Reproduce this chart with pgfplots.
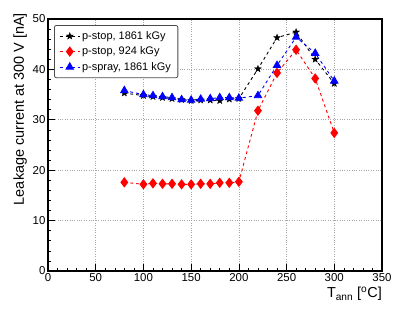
\documentclass[border=0pt]{standalone}
\usepackage{fontspec}
\setmainfont{Liberation Sans}
\usepackage{pgfplots}
\pgfplotsset{compat=1.18}

% filled five-point star, like ROOT marker 29
\pgfdeclareplotmark{fstar}{%
  \pgfpathmoveto{\pgfpointpolar{90}{\pgfplotmarksize}}%
  \pgfpathlineto{\pgfpointpolar{126}{0.42\pgfplotmarksize}}%
  \pgfpathlineto{\pgfpointpolar{162}{\pgfplotmarksize}}%
  \pgfpathlineto{\pgfpointpolar{198}{0.42\pgfplotmarksize}}%
  \pgfpathlineto{\pgfpointpolar{234}{\pgfplotmarksize}}%
  \pgfpathlineto{\pgfpointpolar{270}{0.42\pgfplotmarksize}}%
  \pgfpathlineto{\pgfpointpolar{306}{\pgfplotmarksize}}%
  \pgfpathlineto{\pgfpointpolar{342}{0.42\pgfplotmarksize}}%
  \pgfpathlineto{\pgfpointpolar{18}{\pgfplotmarksize}}%
  \pgfpathlineto{\pgfpointpolar{54}{0.42\pgfplotmarksize}}%
  \pgfpathclose\pgfusepathqfillstroke}

\begin{document}
\begin{tikzpicture}
\begin{axis}[
  scale only axis,
  width=334bp, height=252bp,
  xmin=0, xmax=350, ymin=0, ymax=50,
  xtick={0,50,...,350}, ytick={0,10,...,50},
  minor x tick num=4, minor y tick num=4,
  tick align=inside, xtick pos=bottom, ytick pos=left,
  major tick length=7bp, minor tick length=3.5bp,
  axis line style={line width=1.4bp},
  every tick/.style={black, line width=0.6bp},
  grid=major,
  major grid style={gray!70, dotted, line width=0.6bp},
  /pgf/number format/assume math mode=true,
  tick label style={font=\fontsize{11.5}{13}\selectfont},
  xticklabel style={yshift=1bp},
  yticklabel style={xshift=1bp},
  xlabel={T\textsubscript{ann} [\textsuperscript{o}C]},
  ylabel={Leakage current at 300 V [nA]},
  label style={font=\fontsize{14.5}{16}\selectfont, inner sep=0pt},
  x label style={at={(rel axis cs:1,0)}, anchor=north east, yshift=-16bp},
  y label style={at={([xshift=-21bp]rel axis cs:0,1.024)}, anchor=south east},
  legend style={at={(rel axis cs:0.018,0.976)}, anchor=north west,
    font=\fontsize{11}{13}\selectfont, draw=black!70, line width=0.8bp,
    rounded corners=2bp, inner xsep=5bp, inner ysep=4bp,
    row sep=2bp},
  legend cell align=left,
  legend image code/.code={
    \draw[mark repeat=2, mark phase=2, #1] plot coordinates {(0cm,0cm) (0.35cm,0cm) (0.7cm,0cm)};},
]
\addplot[black, dashed, line width=0.9bp, mark=fstar, mark size=3.6bp,
  mark options={solid, fill=black, line width=0.3bp}] coordinates {
  (80,35.3) (100,34.8) (110,34.6) (120,34.4) (130,34.2) (140,34.0) (150,33.8)
  (160,33.9) (170,33.9) (180,33.8) (190,34.1) (200,34.2) (220,40.1) (240,46.3)
  (260,47.4) (280,42.0) (300,37.2)};
\addlegendentry{p-stop, 1861 kGy}
\addplot[red, dashed, line width=0.9bp, mark=diamond*, mark size=4.5bp,
  mark options={solid, fill=red}] coordinates {
  (80,17.6) (100,17.2) (110,17.4) (120,17.3) (130,17.3) (140,17.2) (150,17.2)
  (160,17.3) (170,17.3) (180,17.5) (190,17.5) (200,17.7) (220,31.8) (240,39.3)
  (260,43.9) (280,38.2) (300,27.4)};
\addlegendentry{p-stop, 924 kGy}
\addplot[blue, dashed, line width=0.9bp, mark=triangle*, mark size=4.2bp,
  mark options={solid, fill=blue}] coordinates {
  (80,35.8) (100,35.0) (110,34.8) (120,34.6) (130,34.4) (140,34.0) (150,33.9)
  (160,34.1) (170,34.2) (180,34.4) (190,34.4) (200,34.3) (220,34.8) (240,40.8)
  (260,46.4) (280,43.2) (300,37.7)};
\addlegendentry{p-spray, 1861 kGy}
\end{axis}
\pgfresetboundingbox
\path ([shift={(-48bp,-55bp)}]current axis.south west) rectangle ([shift={(25bp,19bp)}]current axis.north east);
\end{tikzpicture}
\end{document}
